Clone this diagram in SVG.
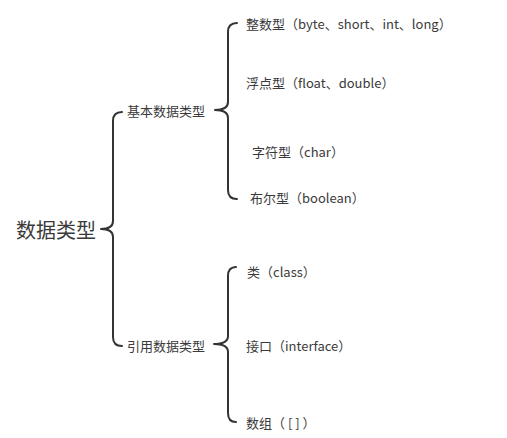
<svg xmlns="http://www.w3.org/2000/svg" width="507" height="438" viewBox="0 0 507 438">
<style>
text{font-family:"Microsoft YaHei","Noto Sans CJK SC","Noto Sans",sans-serif;fill:#3a3a3a;dominant-baseline:central}
.leaf{font-size:13px}
.mid{font-size:13px}
.root{font-size:20px}
.brace{fill:none;stroke:#333;stroke-width:2;stroke-linecap:round;stroke-linejoin:round}
</style>
<rect width="507" height="438" fill="#fff"/>
<g id="connectors">
<path class="brace" d="M122,112 Q113,112 113,121 L113,221 Q113,229 101,229 Q113,229 113,237 L113,337 Q113,346 122,346"/>
<path class="brace" d="M237,23 Q228,23 228,32 L228,102 Q228,110 215,110 Q228,110 228,118 L228,190 Q228,199 237,199"/>
<path class="brace" d="M236,267 Q228,267 228,276 L228,336 Q228,344 214,344 Q228,344 228,352 L228,413 Q228,422 236,422"/>
</g>
<g id="root"><text class="root" x="16" y="229">数据类型</text></g>
<g id="basic"><text class="mid" x="127" y="110">基本数据类型</text></g>
<g id="ref"><text class="mid" x="127" y="345">引用数据类型</text></g>
<g id="int"><text class="leaf" x="246" y="23">整数型（byte、short、int、long）</text></g>
<g id="float"><text class="leaf" x="246" y="82">浮点型（float、double）</text></g>
<g id="char"><text class="leaf" x="252" y="151">字符型（char）</text></g>
<g id="bool"><text class="leaf" x="250" y="197">布尔型（boolean）</text></g>
<g id="class"><text class="leaf" x="247" y="271">类（class）</text></g>
<g id="interface"><text class="leaf" x="246" y="345">接口（interface）</text></g>
<g id="array"><text class="leaf" x="246" y="422" xml:space="preserve">数组（ [ ] ）</text></g>
</svg>
